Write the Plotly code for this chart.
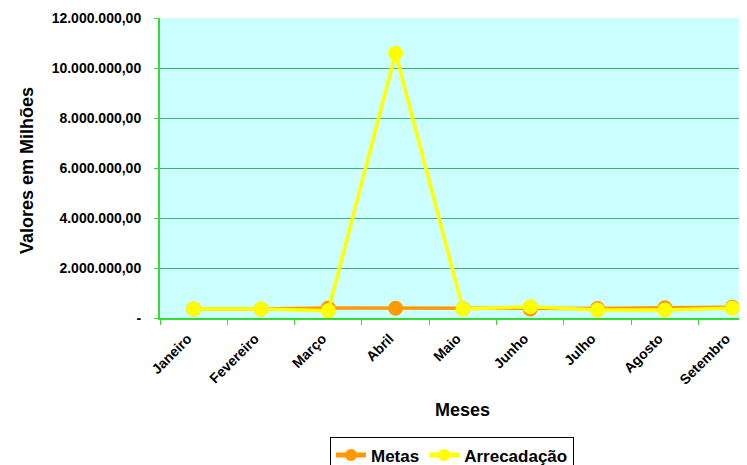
import plotly.graph_objects as go

meses = ["Janeiro", "Fevereiro", "Março", "Abril", "Maio", "Junho", "Julho", "Agosto", "Setembro"]
metas = [360000, 360000, 400000, 390000, 370000, 360000, 380000, 410000, 430000]
arrecadacao = [360000, 360000, 290000, 10590000, 360000, 450000, 320000, 320000, 390000]
y_tickvals = [0, 2000000, 4000000, 6000000, 8000000, 10000000, 12000000]
y_ticktext = ["-", "2.000.000,00", "4.000.000,00", "6.000.000,00", "8.000.000,00", "10.000.000,00", "12.000.000,00"]

FONT = "Liberation Sans, Arial, sans-serif"

fig = go.Figure()
fig.add_trace(go.Scatter(
    x=meses, y=metas, name="<b>Metas</b>", mode="lines+markers",
    line=dict(color="#FF9900", width=3.5),
    marker=dict(color="#FF9900", size=15),
))
fig.add_trace(go.Scatter(
    x=meses, y=arrecadacao, name="<b>Arrecadação</b>", mode="lines+markers",
    line=dict(color="#FFFF00", width=3.5),
    marker=dict(color="#FFFF00", size=15),
))

fig.update_layout(
    width=739, height=457,
    margin=dict(l=152, r=0, t=10, b=147, autoexpand=False),
    paper_bgcolor="white",
    plot_bgcolor="#CCFFFF",
    font=dict(family=FONT, color="black"),
    showlegend=True,
    legend=dict(
        orientation="h", x=0.2896, xanchor="left", y=-0.395, yanchor="top",
        bordercolor="black", borderwidth=1, bgcolor="white",
        font=dict(family=FONT, size=17, color="black"),
        tracegroupgap=0, itemsizing="constant",
    ),
    xaxis=dict(
        type="category", range=[-0.5, 8.22],
        tickson="boundaries", ticks="outside", ticklen=5, tickcolor="#33DD33", tickwidth=1,
        tickangle=-45, tickfont=dict(family=FONT, size=14, color="black", weight="bold"),
        ticklabelstandoff=5, ticklabelshift=-6,
        showline=True, linecolor="#33DD33", linewidth=2,
        showgrid=False, zeroline=False,
    ),
    yaxis=dict(
        range=[0, 12000000], tickvals=y_tickvals, ticktext=y_ticktext,
        ticks="outside", ticklen=4, tickcolor="#33DD33", ticklabelstandoff=10,
        tickfont=dict(family=FONT, size=14, color="black", weight="bold"),
        showline=True, linecolor="#33DD33", linewidth=2,
        showgrid=True, gridcolor="#3CB371", gridwidth=1,
        zeroline=False,
    ),
    annotations=[
        dict(text="<b>Meses</b>", xref="paper", yref="paper", x=0.515, y=-0.308,
             xanchor="center", yanchor="middle", showarrow=False,
             font=dict(family=FONT, size=18, color="black")),
        dict(text="<b>Valores em Milhões</b>", xref="paper", yref="paper", x=-0.2266, y=0.493,
             xanchor="center", yanchor="middle", showarrow=False, textangle=-90,
             font=dict(family=FONT, size=18, color="black")),
    ],
)

fig.write_html("out.html")
